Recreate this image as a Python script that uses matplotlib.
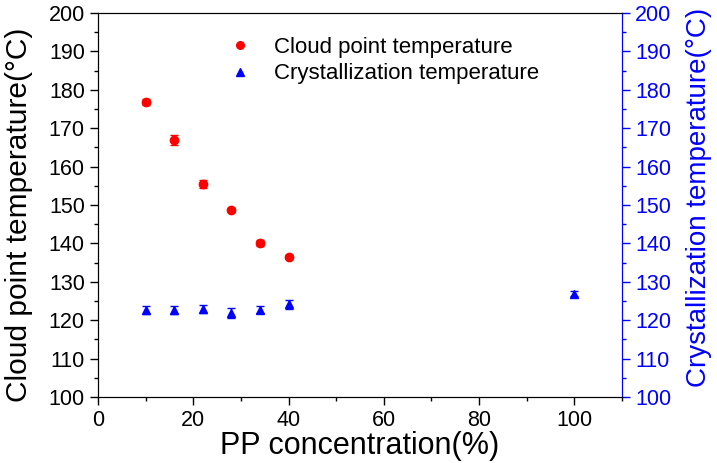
import matplotlib
matplotlib.use("Agg")
import matplotlib.pyplot as plt
from matplotlib.ticker import MultipleLocator
from matplotlib.lines import Line2D

plt.rcParams['font.family'] = ['Liberation Sans', 'DejaVu Sans']

# datos
pp_cloud = [10, 16, 22, 28, 34, 40]
cloud_temp = [176.9, 167.0, 155.4, 148.8, 140.1, 136.5]
cloud_err = [0.8, 1.3, 1.0, 0.4, 0.8, 0.4]

pp_cryst = [10, 16, 22, 28, 34, 40, 100]
cryst_temp = [122.6, 122.6, 122.9, 121.9, 122.7, 124.1, 126.9]
cryst_err = [1.0, 1.0, 1.0, 1.2, 0.9, 1.2, 0.6]

fig = plt.figure(figsize=(7.17, 4.63), dpi=100)
ax = fig.add_axes([0.1367, 0.1425, 0.7308, 0.8295])
ax2 = ax.twinx()

ax.errorbar(pp_cloud, cloud_temp, yerr=cloud_err, fmt='o', color='red', ms=6,
            capsize=3, elinewidth=1)
ax2.errorbar(pp_cryst, cryst_temp, yerr=cryst_err, fmt='^', color='blue', ms=6,
             capsize=3, elinewidth=1)

ax.set_xlim(0, 110)
ax.set_ylim(100, 200)
ax2.set_ylim(100, 200)
ax.xaxis.set_major_locator(MultipleLocator(20))
ax.xaxis.set_minor_locator(MultipleLocator(10))
ax.yaxis.set_major_locator(MultipleLocator(10))
ax.yaxis.set_minor_locator(MultipleLocator(5))
ax2.yaxis.set_major_locator(MultipleLocator(10))
ax2.yaxis.set_minor_locator(MultipleLocator(5))

ax.tick_params(which='major', direction='out', length=6, width=1, labelsize=15.5)
ax.tick_params(which='minor', direction='out', length=3, width=1)
ax2.tick_params(which='major', direction='out', length=6, width=1, labelsize=15.5,
                colors='blue')
ax2.tick_params(which='minor', direction='out', length=3, width=1, colors='blue')
ax2.spines['right'].set_color('blue')

ax.set_xlabel('PP concentration(%)', fontsize=22, labelpad=0)
ax.set_ylabel('Cloud point temperature(°C)', fontsize=21.5)
ax2.set_ylabel('Crystallization temperature(°C)', fontsize=20, color='blue')
ax.yaxis.set_label_coords(-0.124, 0.474)
ax2.yaxis.set_label_coords(1.122, 0.52)

handles = [Line2D([], [], ls='none', marker='o', color='red', ms=5.5),
           Line2D([], [], ls='none', marker='^', color='blue', ms=5.5)]
labels = ['Cloud point temperature', 'Crystallization temperature']
ax2.legend(handles, labels, loc='upper left', bbox_to_anchor=(0.212, 0.99),
           frameon=False, fontsize=16, handletextpad=1.0, labelspacing=0.25,
           handlelength=1.0)

fig.savefig('out.png', dpi=100)
